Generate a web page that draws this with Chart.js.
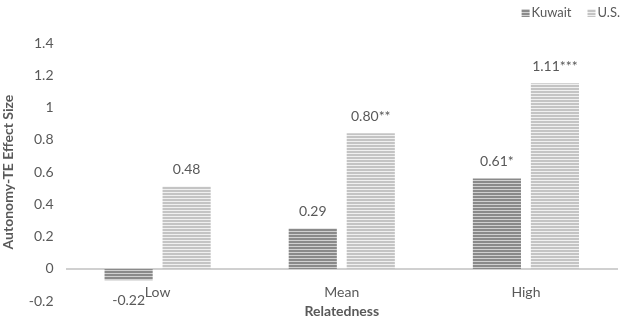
<!DOCTYPE html>
<html>
<head>
<meta charset="utf-8">
<script src="https://cdn.jsdelivr.net/npm/chart.js@4"></script>
<style>
html,body{margin:0;padding:0;background:#fff;}
#wrap{width:624px;height:324px;}
</style>
</head>
<body>
<div id="wrap"><canvas id="c" width="624" height="324"></canvas></div>
<script>
const categories = ["Low", "Mean", "High"];
const kuwaitValues = [-0.07, 0.25, 0.56];
const usValues = [0.51, 0.84, 1.15];
const kuwaitLabels = ["-0.22", "0.29", "0.61*"];
const usLabels = ["0.48", "0.80**", "1.11***"];
const seriesNames = ["Kuwait", "U.S."];
const yTicks = { min: -0.2, max: 1.4, step: 0.2 };

function stripes(dark, light) {
  const c = document.createElement('canvas');
  c.width = 4; c.height = 3;
  const g = c.getContext('2d');
  g.fillStyle = light; g.fillRect(0, 0, 4, 3);
  g.fillStyle = dark; g.fillRect(0, 1, 4, 2);
  return g.createPattern(c, 'repeat');
}
const kuwaitFill = stripes('#8a8a8a', '#d0d0d0');
const usFill = stripes('#c4c4c4', '#f0f0f0');
const fills = [kuwaitFill, usFill];

const FONT = "Lato, 'Open Sans', sans-serif";
const TXT = '#595959';

const extras = {
  id: 'extras',
  afterDatasetsDraw(chart) {
    const g = chart.ctx;
    g.save();
    g.font = '14px ' + FONT;
    g.fillStyle = TXT;
    g.textAlign = 'center';
    g.textBaseline = 'middle';
    const lbls = [kuwaitLabels, usLabels];
    chart.data.datasets.forEach((ds, di) => {
      chart.getDatasetMeta(di).data.forEach((el, i) => {
        const v = ds.data[i];
        const y = v >= 0 ? el.y - 17 : el.y + 20;
        g.fillText(lbls[di][i], el.x, y);
      });
    });
    // category labels
    const xs = chart.scales.x, ys = chart.scales.y;
    const cy = ys.getPixelForValue(yTicks.min) - 9;
    categories.forEach((c, i) => {
      g.fillText(c, xs.getPixelForValue(i), cy);
    });
    // legend
    g.font = '13px ' + FONT;
    g.textAlign = 'left';
    let x = chart.width - 4;
    const items = seriesNames.map((n, i) => ({ n, i, w: g.measureText(n).width }));
    const pos = [];
    for (let k = items.length - 1; k >= 0; k--) {
      x -= items[k].w;
      pos[k] = x;
      x -= 10;
      x -= 16;
    }
    items.forEach((it, k) => {
      g.fillStyle = fills[it.i];
      g.fillRect(pos[k] - 10, 9, 8, 8);
      g.fillStyle = TXT;
      g.fillText(it.n, pos[k], 13);
    });
    g.restore();
  }
};

new Chart(document.getElementById('c'), {
  type: 'bar',
  data: {
    labels: categories,
    datasets: [
      { label: seriesNames[0], data: kuwaitValues, backgroundColor: kuwaitFill, borderWidth: 0 },
      { label: seriesNames[1], data: usValues, backgroundColor: usFill, borderWidth: 0 }
    ]
  },
  options: {
    responsive: false,
    animation: false,
    devicePixelRatio: 1,
    categoryPercentage: 0.63,
    barPercentage: 0.83,
    layout: { padding: { top: 43, right: 6, left: 0, bottom: 4 } },
    plugins: {
      legend: { display: false },
      tooltip: { enabled: false }
    },
    scales: {
      x: {
        grid: { display: false, drawTicks: false },
        border: { display: false },
        ticks: { display: false },
        title: { display: true, text: 'Relatedness', font: { family: FONT, size: 14, weight: 'bold' }, color: TXT, padding: { top: 2, bottom: 0 } }
      },
      y: {
        min: yTicks.min, max: yTicks.max,
        ticks: {
          stepSize: yTicks.step, font: { family: FONT, size: 14 }, color: TXT, padding: 12,
          callback: (v) => String(Number(Number(v).toFixed(1)))
        },
        grid: {
          drawTicks: false,
          color: (c) => (c.tick && Math.abs(c.tick.value) < 1e-9) ? '#d0d0d0' : 'rgba(0,0,0,0)',
          lineWidth: (c) => (c.tick && Math.abs(c.tick.value) < 1e-9) ? 2 : 0
        },
        border: { display: false },
        title: { display: true, text: 'Autonomy-TE Effect Size', font: { family: FONT, size: 14, weight: 'bold' }, color: TXT, padding: { top: 0, bottom: 0 } }
      }
    }
  },
  plugins: [extras]
});
</script>
</body>
</html>
